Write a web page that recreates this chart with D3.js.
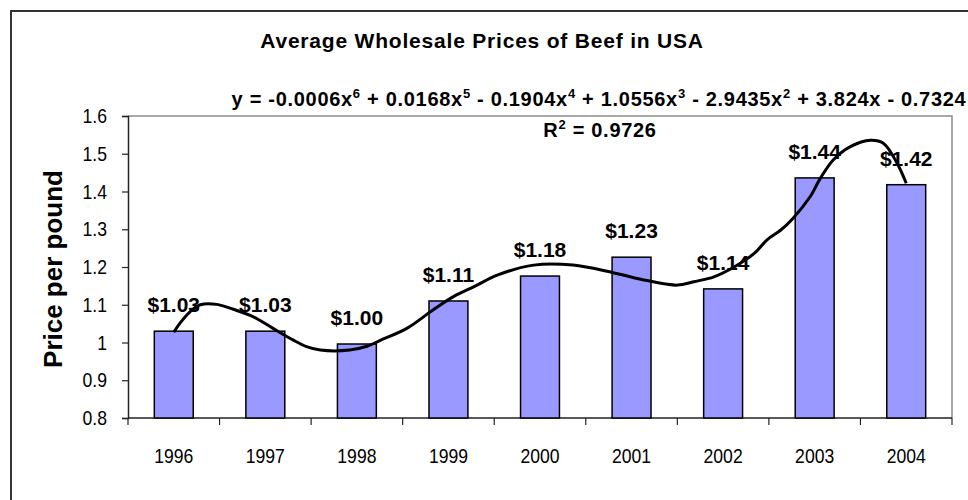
<!DOCTYPE html>
<html>
<head>
<meta charset="utf-8">
<script src="https://cdn.jsdelivr.net/npm/d3@7"></script>
<style>
  body { margin: 0; background: #fff; }
  svg { display: block; }
</style>
</head>
<body>
<div id="chart"></div>
<script>
// values
const years = ["1996", "1997", "1998", "1999", "2000", "2001", "2002", "2003", "2004"];
const prices = [1.03, 1.03, 0.996, 1.11, 1.176, 1.226, 1.142, 1.436, 1.418];
const yTicks = [0.8, 0.9, 1, 1.1, 1.2, 1.3, 1.4, 1.5, 1.6];

// trendline (6th order polynomial)
const trendYears = [1996.00, 1996.07, 1996.18, 1996.29, 1996.47, 1996.65, 1996.87, 1997.08,
    1997.30, 1997.45, 1997.60, 1997.92, 1998.11, 1998.25, 1998.55, 1998.83, 1999.05, 1999.28,
    1999.54, 1999.93, 2000.36, 2000.80, 2001.17, 2001.50, 2001.68, 2001.90, 2002.12, 2002.34,
    2002.48, 2002.63, 2002.76, 2002.95, 2003.06, 2003.20, 2003.39, 2003.61, 2003.75, 2003.90, 2004.00];
const trendValues = [1.027, 1.052, 1.082, 1.100, 1.101, 1.088, 1.068, 1.038,
    1.007, 0.989, 0.980, 0.980, 0.990, 1.005, 1.038, 1.086, 1.121, 1.148,
    1.179, 1.205, 1.205, 1.185, 1.164, 1.152, 1.161, 1.174, 1.200, 1.236,
    1.272, 1.298, 1.328, 1.386, 1.434, 1.483, 1.519, 1.536, 1.528, 1.475, 1.422];

const width = 968;
const height = 500;
const margin = { top: 116, right: 16, bottom: 82, left: 128 };

const boldFont = "Arial, 'Liberation Sans', sans-serif";
const tickFont = "Arial, 'Liberation Sans', sans-serif";

const svg = d3.select("#chart").append("svg")
    .attr("width", width)
    .attr("height", height);

// outer chart border (only top and left show in the crop)
svg.append("path")
    .attr("d", `M11,${height} V11 H${width}`)
    .style("fill", "none")
    .style("stroke", "#333")
    .style("stroke-width", 2);

const x = d3.scaleBand()
    .domain(years)
    .range([margin.left, width - margin.right])
    .paddingInner(0.575)
    .paddingOuter(0.2875);

const y = d3.scaleLinear()
    .domain([0.8, 1.6])
    .range([height - margin.bottom, margin.top]);

const xTrend = d3.scaleLinear()
    .domain([1996, 2004])
    .range([x("1996") + x.bandwidth() / 2, x("2004") + x.bandwidth() / 2]);

// plot area frame, grey on top and right
svg.append("path")
    .attr("d", `M${margin.left},${margin.top} H${width - margin.right} V${height - margin.bottom}`)
    .style("fill", "none")
    .style("stroke", "#8c8c8c")
    .style("stroke-width", 1.5);

// y axis
const yAxis = svg.append("g")
    .attr("transform", `translate(${margin.left},0)`)
    .call(d3.axisLeft(y).tickValues(yTicks).tickSize(6).tickFormat(""));

yAxis.select(".domain").style("stroke", "#222").style("stroke-width", 1.5);
yAxis.selectAll(".tick line").style("stroke", "#222").style("stroke-width", 1.2);

// narrow-looking tick labels: squeeze them horizontally
svg.selectAll(".ylabel")
    .data(yTicks)
    .enter()
    .append("text")
    .attr("class", "ylabel")
    .attr("transform", d => `translate(${margin.left - 21},${y(d) + 7}) scale(0.88,1)`)
    .attr("text-anchor", "end")
    .style("font-family", tickFont)
    .style("font-size", "20px")
    .text(d => d3.format("~g")(d));

// x axis: ticks sit on the band edges
const bandEdges = years.map(d => x(d) - x.step() * x.paddingInner() / 2).concat([width - margin.right]);

const xAxis = svg.append("g")
    .attr("transform", `translate(0,${height - margin.bottom})`);

xAxis.append("line")
    .attr("x1", margin.left)
    .attr("x2", width - margin.right)
    .style("stroke", "#222")
    .style("stroke-width", 1.5);

xAxis.selectAll(".xtick")
    .data(bandEdges)
    .enter()
    .append("line")
    .attr("class", "xtick")
    .attr("x1", d => d)
    .attr("x2", d => d)
    .attr("y1", 0)
    .attr("y2", 7)
    .style("stroke", "#222")
    .style("stroke-width", 1.2);

xAxis.selectAll(".xlabel")
    .data(years)
    .enter()
    .append("text")
    .attr("class", "xlabel")
    .attr("transform", d => `translate(${x(d) + x.bandwidth() / 2},45) scale(0.88,1)`)
    .attr("text-anchor", "middle")
    .style("font-family", tickFont)
    .style("font-size", "20px")
    .text(d => d);

// bars
svg.selectAll(".bar")
    .data(prices)
    .enter()
    .append("rect")
    .attr("class", "bar")
    .attr("x", (d, i) => x(years[i]))
    .attr("width", x.bandwidth())
    .attr("y", d => y(d))
    .attr("height", d => y(0.8) - y(d))
    .style("fill", "#9999ff")
    .style("stroke", "#000")
    .style("stroke-width", 1.5);

// data labels
svg.selectAll(".label")
    .data(prices)
    .enter()
    .append("text")
    .attr("class", "label")
    .attr("x", (d, i) => x(years[i]) + x.bandwidth() / 2)
    .attr("y", d => y(d) - 19)
    .attr("text-anchor", "middle")
    .style("font-family", boldFont)
    .style("font-weight", "bold")
    .style("font-size", "21px")
    .text(d => "$" + d.toFixed(2));

// trendline
const line = d3.line()
    .x((d, i) => xTrend(trendYears[i]))
    .y(d => y(d))
    .curve(d3.curveCatmullRom);

svg.append("path")
    .datum(trendValues)
    .attr("d", line)
    .style("fill", "none")
    .style("stroke", "#000")
    .style("stroke-width", 3);

// title
svg.append("text")
    .attr("x", 482)
    .attr("y", 48)
    .attr("text-anchor", "middle")
    .style("font-family", boldFont)
    .style("font-weight", "bold")
    .style("font-size", "21px")
    .style("letter-spacing", "0.8px")
    .text("Average Wholesale Prices of Beef in USA");

// y axis title
svg.append("text")
    .attr("transform", "translate(62,269) rotate(-90)")
    .attr("text-anchor", "middle")
    .style("font-family", boldFont)
    .style("font-weight", "bold")
    .style("font-size", "26px")
    .text("Price per pound");

// trendline equation and R squared
const eqParts = [
    ["y = -0.0006x", "6"], [" + 0.0168x", "5"], [" - 0.1904x", "4"],
    [" + 1.0556x", "3"], [" - 2.9435x", "2"], [" + 3.824x - 0.7324", null]
];

const eq = svg.append("text")
    .attr("x", 599)
    .attr("y", 106)
    .attr("text-anchor", "middle")
    .style("font-family", boldFont)
    .style("font-weight", "bold")
    .style("font-size", "20px")
    .style("letter-spacing", "0.7px");

let shift = 0;
eqParts.forEach(p => {
    eq.append("tspan").attr("dy", -shift).text(p[0]);
    shift = 0;
    if (p[1]) {
        eq.append("tspan").attr("dy", -8).style("font-size", "13px").text(p[1]);
        shift = -8;
    }
});

const r2 = svg.append("text")
    .attr("x", 600)
    .attr("y", 137)
    .attr("text-anchor", "middle")
    .style("font-family", boldFont)
    .style("font-weight", "bold")
    .style("font-size", "20px")
    .style("letter-spacing", "0.7px");

r2.append("tspan").text("R");
r2.append("tspan").attr("dy", -8).style("font-size", "13px").text("2");
r2.append("tspan").attr("dy", 8).text(" = 0.9726");
</script>
</body>
</html>
